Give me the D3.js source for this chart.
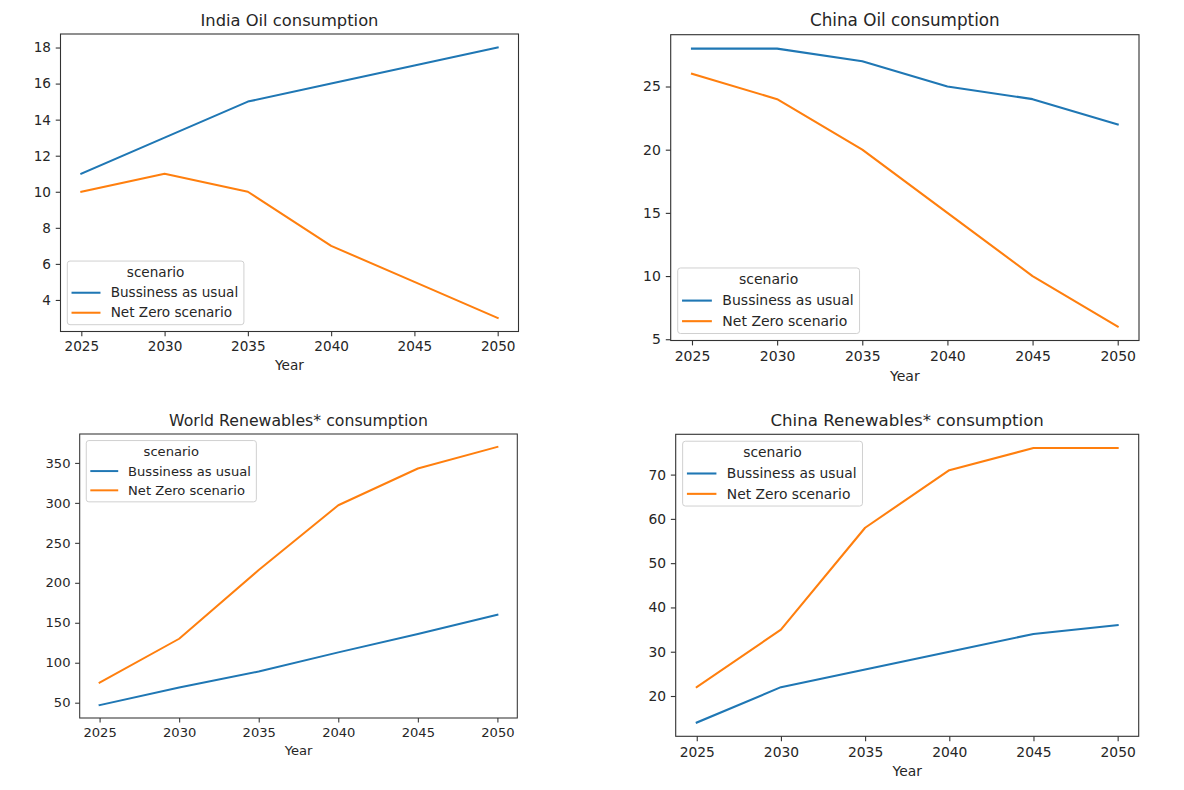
<!DOCTYPE html>
<html><head><meta charset="utf-8">
<script src="https://cdn.jsdelivr.net/npm/d3@7"></script>
<style>body{margin:0;background:#fff} svg{display:block} text{font-family:"DejaVu Sans",sans-serif;fill:#262626}</style>
</head><body><svg id="c" width="1184" height="790"></svg>
<script>
// ---- data ----
const years = [2025, 2030, 2035, 2040, 2045, 2050];
const seriesNames = ["Bussiness as usual", "Net Zero scenario"];
const legendTitle = "scenario";
const xLabel = "Year";
const titles = ["India Oil consumption", "China Oil consumption", "World Renewables* consumption", "China Renewables* consumption"];
const indiaOilBAU = [11, 13, 15, 16, 17, 18];
const indiaOilNZ = [10, 11, 10, 7, 5, 3];
const chinaOilBAU = [28, 28, 27, 25, 24, 22];
const chinaOilNZ = [26, 24, 20, 15, 10, 6];
const worldRenBAU = [47, 69, 89, 113, 136, 160];
const worldRenNZ = [75, 130, 216, 297, 343, 370];
const chinaRenBAU = [14, 22, 26, 30, 34, 36];
const chinaRenNZ = [22, 35, 58, 71, 76, 76];
const indiaOilTicks = [4, 6, 8, 10, 12, 14, 16, 18];
const chinaOilTicks = [5, 10, 15, 20, 25];
const worldRenTicks = [50, 100, 150, 200, 250, 300, 350];
const chinaRenTicks = [20, 30, 40, 50, 60, 70];
const colors = ["#1f77b4", "#ff7f0e"];

// ---- layout ----
const panels = [
  {title: titles[0], series: [indiaOilBAU, indiaOilNZ], ticks: indiaOilTicks, box: {l: 60.5, r: 518.5, t: 34, b: 331.5}, s: 1.36, legend: "lower"},
  {title: titles[1], series: [chinaOilBAU, chinaOilNZ], ticks: chinaOilTicks, box: {l: 670.7, r: 1139, t: 34.7, b: 340.5}, s: 1.40, legend: "lower"},
  {title: titles[2], series: [worldRenBAU, worldRenNZ], ticks: worldRenTicks, box: {l: 79.7, r: 517.3, t: 434, b: 718}, s: 1.31, legend: "upper"},
  {title: titles[3], series: [chinaRenBAU, chinaRenNZ], ticks: chinaRenTicks, box: {l: 675.7, r: 1138.7, t: 434.3, b: 736.3}, s: 1.385, legend: "upper"}
];

const svg = d3.select("#c");

function pad(ext) { const r = ext[1] - ext[0]; return [ext[0] - 0.05 * r, ext[1] + 0.05 * r]; }

panels.forEach(p => {
  const s = p.s, fs = 10 * s, B = p.box;
  const g = svg.append("g");
  const x = d3.scaleLinear().domain(pad(d3.extent(years))).range([B.l, B.r]);
  const allV = p.series.flat();
  const y = d3.scaleLinear().domain(pad(d3.extent(allV))).range([B.b, B.t]);

  // lines
  const line = d3.line().x((d, i) => x(years[i])).y(d => y(d));
  p.series.forEach((ser, k) => {
    g.append("path").attr("d", line(ser)).attr("fill", "none")
      .attr("stroke", colors[k]).attr("stroke-width", 1.5 * s)
      .attr("stroke-linejoin", "round").attr("stroke-linecap", "square");
  });

  // axes
  const xa = g.append("g").attr("transform", `translate(0,${B.b})`)
    .call(d3.axisBottom(x).tickValues(years).tickFormat(d3.format("d")).tickSize(3.5 * s).tickPadding(3.5 * s));
  const ya = g.append("g").attr("transform", `translate(${B.l},0)`)
    .call(d3.axisLeft(y).tickValues(p.ticks).tickFormat(d3.format("d")).tickSize(3.5 * s).tickPadding(3.5 * s));
  [xa, ya].forEach(a => {
    a.select(".domain").remove();
    a.selectAll(".tick line").attr("stroke", "#333").attr("stroke-width", 0.8 * s);
    a.selectAll(".tick text").attr("font-size", fs).attr("font-family", "DejaVu Sans").attr("fill", "#262626");
  });
  xa.selectAll(".tick text").attr("dy", "0.76em");

  // frame
  g.append("rect").attr("x", B.l).attr("y", B.t).attr("width", B.r - B.l).attr("height", B.b - B.t)
    .attr("fill", "none").attr("stroke", "#333").attr("stroke-width", 0.8 * s);

  // title
  g.append("text").attr("x", (B.l + B.r) / 2).attr("y", B.t - 6 * s).attr("text-anchor", "middle")
    .attr("font-size", 12 * s).text(p.title);
  // x label
  const xlTop = B.b + 7 * s + fs + 4 * s;
  g.append("text").attr("x", (B.l + B.r) / 2).attr("y", xlTop + 0.76 * fs).attr("text-anchor", "middle")
    .attr("font-size", fs).text(xLabel);

  // legend
  const h = 4.68 * fs;
  const lx = B.l + 0.5 * fs;
  const ly = p.legend === "upper" ? B.t + 0.5 * fs : B.b - 0.5 * fs - h;
  const lg = g.append("g").attr("transform", `translate(${lx},${ly})`);
  const frame = lg.append("rect").attr("fill", "#fff").attr("fill-opacity", 0.8)
    .attr("stroke", "#d0d0d0").attr("stroke-width", 1).attr("rx", 0.2 * fs).attr("ry", 0.2 * fs);
  const textX = 3.19 * fs;
  let maxW = 0;
  const entryY = [2.33 * fs, 3.8 * fs];
  seriesNames.forEach((name, k) => {
    lg.append("line").attr("x1", 0.31 * fs).attr("x2", 0.31 * fs + 2.13 * fs)
      .attr("y1", entryY[k]).attr("y2", entryY[k]).attr("stroke", colors[k]).attr("stroke-width", 1.5 * s);
    const t = lg.append("text").attr("x", textX).attr("y", entryY[k] + 0.34 * fs).attr("font-size", fs).text(name);
    maxW = Math.max(maxW, t.node().getComputedTextLength());
  });
  const w = textX + maxW + 0.42 * fs;
  frame.attr("x", 0).attr("y", 0).attr("width", w).attr("height", h);
  lg.append("text").attr("x", w / 2).attr("y", 0.88 * fs + 0.27 * fs).attr("text-anchor", "middle")
    .attr("font-size", fs).text(legendTitle);
});
</script></body></html>
